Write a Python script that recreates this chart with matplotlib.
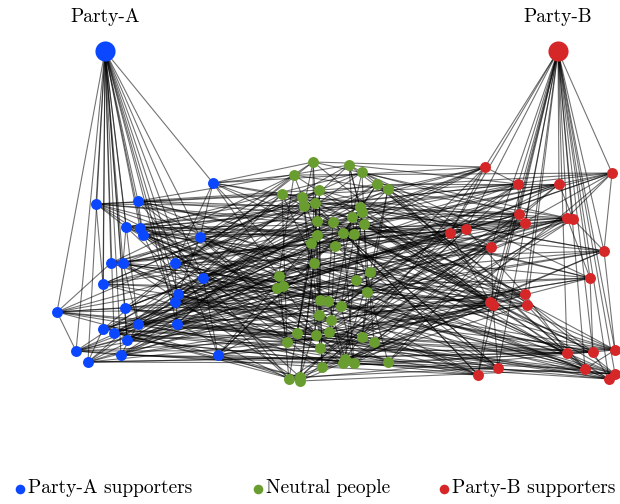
import matplotlib
matplotlib.use('Agg')
import matplotlib.pyplot as plt
from matplotlib.collections import LineCollection

plt.rcParams['font.family'] = 'cmr10'

# node positions (pixel-like coordinates, y down)
hub_a = (105, 51)
hub_b = (558, 51)

blue_x = [213, 96, 138, 126, 140, 143, 200, 111, 123, 175, 203, 103, 178, 175, 57,
          125, 103, 138, 177, 114, 127, 76, 121, 218, 88]
blue_y = [183, 204, 201, 227, 228, 235, 237, 263, 263, 263, 278, 284, 294, 302, 312,
          308, 329, 324, 324, 333, 340, 351, 355, 355, 362]

green_x = [313, 349, 294, 362, 377, 388, 282, 302, 319, 304, 315, 360, 362, 352, 317,
           333, 364, 317, 343, 354, 311, 335, 314, 279, 370, 356, 277, 283, 367, 320,
           328, 341, 319, 331, 297, 316, 329, 362, 374, 287, 320, 345, 354, 343, 322,
           388, 289, 300, 300]
green_y = [162, 165, 175, 172, 184, 189, 194, 197, 190, 206, 203, 207, 212, 217, 221,
           222, 224, 235, 233, 234, 243, 246, 263, 276, 272, 280, 288, 286, 292, 300,
           301, 306, 315, 320, 333, 335, 332, 337, 342, 342, 348, 359, 363, 363, 367,
           362, 379, 377, 381]

red_x = [485, 612, 518, 559, 519, 525, 567, 573, 450, 466, 491, 604, 590, 525, 527,
         490, 493, 567, 593, 615, 585, 615, 609, 498, 478]
red_y = [167, 173, 184, 184, 214, 223, 218, 219, 233, 229, 247, 251, 278, 294, 305,
         302, 305, 353, 352, 350, 369, 374, 379, 368, 375]

# edges
blue_green = {
    0: [0, 2, 7, 14, 23, 30], 1: [6, 9, 15, 24, 33, 40], 2: [1, 8, 13, 21, 29, 42],
    3: [4, 10, 18, 26, 35, 46], 4: [3, 11, 16, 22, 31, 44], 5: [5, 12, 19, 27, 36, 47],
    6: [0, 6, 17, 25, 34, 41], 7: [2, 9, 20, 28, 37, 45], 8: [7, 14, 23, 32, 39, 48],
    9: [1, 10, 18, 24, 30, 43], 10: [4, 11, 21, 29, 38, 46], 11: [3, 8, 15, 26, 33, 40],
    12: [5, 13, 19, 27, 35, 42], 13: [6, 16, 22, 31, 36, 44], 14: [9, 20, 28, 34, 41, 47],
    15: [0, 12, 17, 25, 37, 45], 16: [2, 14, 23, 30, 39, 48], 17: [7, 18, 24, 32, 38, 43],
    18: [1, 10, 21, 29, 35, 46], 19: [11, 15, 26, 33, 40, 47], 20: [3, 13, 20, 28, 36, 42],
    21: [8, 16, 22, 31, 37, 44], 22: [4, 19, 27, 34, 41, 45], 23: [5, 12, 17, 25, 38, 48],
    24: [6, 9, 24, 30, 39, 43],
}
red_green = {
    0: [0, 5, 12, 20, 33, 41], 1: [2, 8, 16, 27, 36, 45], 2: [1, 9, 18, 24, 31, 47],
    3: [4, 11, 22, 29, 38, 44], 4: [3, 7, 14, 26, 35, 48], 5: [6, 13, 19, 30, 40, 46],
    6: [0, 10, 17, 25, 34, 43], 7: [2, 12, 21, 28, 37, 42], 8: [5, 15, 23, 32, 39, 47],
    9: [1, 8, 20, 27, 36, 44], 10: [4, 14, 19, 31, 38, 45], 11: [6, 11, 24, 29, 41, 48],
    12: [3, 9, 16, 26, 33, 40], 13: [7, 13, 22, 30, 35, 46], 14: [10, 18, 25, 34, 39, 43],
    15: [0, 15, 21, 28, 37, 42], 16: [2, 12, 23, 32, 36, 47], 17: [5, 17, 20, 27, 40, 44],
    18: [1, 9, 19, 31, 38, 45], 19: [8, 14, 24, 29, 35, 46], 20: [4, 11, 26, 33, 41, 48],
    21: [3, 16, 22, 30, 39, 43], 22: [6, 13, 25, 34, 37, 42], 23: [7, 18, 21, 28, 36, 47],
    24: [10, 15, 23, 32, 40, 44],
}
blue_red = {
    0: [0, 9, 17], 1: [2, 11, 20], 2: [4, 13, 22], 3: [1, 8, 15, 24], 4: [3, 10, 19],
    5: [5, 12, 21], 6: [6, 14, 23], 7: [0, 7, 16], 8: [2, 9, 18], 9: [4, 11, 20],
    10: [1, 13, 22], 11: [3, 8, 15], 12: [5, 10, 24], 13: [6, 12, 19], 14: [7, 14, 21],
    15: [0, 16, 23], 16: [2, 9, 17], 17: [4, 11, 18], 18: [1, 13, 20], 19: [3, 8, 22],
    20: [5, 15, 24], 21: [6, 10, 19], 22: [7, 12, 21], 23: [14, 16, 23], 24: [0, 17, 18],
}
green_green = [(0, 9), (0, 14), (1, 11), (1, 19), (2, 17), (2, 26), (3, 13), (3, 28),
               (4, 21), (5, 24), (5, 37), (6, 22), (6, 39), (7, 29), (8, 32), (8, 44),
               (9, 35), (10, 40), (11, 31), (12, 41), (13, 36), (14, 46), (15, 30),
               (16, 38), (17, 47), (18, 42), (19, 45), (20, 34), (21, 33), (22, 48),
               (23, 27), (24, 43), (25, 31), (26, 39), (27, 35), (28, 37), (29, 44),
               (30, 41), (31, 42), (32, 47), (0, 22), (1, 16), (4, 18), (10, 29),
               (12, 25), (14, 34), (20, 40), (23, 46), (33, 43), (36, 45)]
blue_blue = [(0, 6), (0, 9), (1, 3), (1, 11), (2, 5), (2, 10), (3, 8), (4, 13),
             (6, 12), (7, 14), (8, 17), (9, 18), (11, 16), (12, 19), (14, 21),
             (14, 15), (15, 20), (16, 24), (17, 22), (19, 23), (10, 23), (21, 22)]
red_red = [(0, 2), (0, 8), (1, 6), (1, 11), (2, 4), (3, 7), (4, 9), (5, 10),
           (6, 12), (7, 11), (8, 15), (9, 13), (10, 16), (11, 19), (12, 18),
           (13, 17), (14, 20), (15, 24), (16, 23), (17, 21), (18, 22), (19, 20)]

blue = '#0a47ff'
green = '#6a9d2f'
red = '#d62728'

B = list(zip(blue_x, blue_y))
G = list(zip(green_x, green_y))
R = list(zip(red_x, red_y))

segs = []
for p in B:
    segs.append([hub_a, p])
for p in R:
    segs.append([hub_b, p])
for b, gs in blue_green.items():
    for g in gs:
        segs.append([B[b], G[g]])
for r, gs in red_green.items():
    for g in gs:
        segs.append([R[r], G[g]])
for b, rs in blue_red.items():
    for r in rs:
        segs.append([B[b], R[r]])
for i, j in green_green:
    segs.append([G[i], G[j]])
for i, j in blue_blue:
    segs.append([B[i], B[j]])
for i, j in red_red:
    segs.append([R[i], R[j]])

fig = plt.figure(figsize=(6.2, 5.04), dpi=100)
ax = fig.add_axes([0, 0, 1, 1])
ax.set_xlim(0, 620)
ax.set_ylim(504, 0)
ax.axis('off')

ax.add_collection(LineCollection(segs, colors='black', linewidths=0.8, alpha=0.55, zorder=1))

ax.scatter(blue_x, blue_y, s=62, color=blue, zorder=3, linewidths=0)
ax.scatter(green_x, green_y, s=62, color=green, zorder=3, linewidths=0)
ax.scatter(red_x, red_y, s=62, color=red, zorder=3, linewidths=0)
ax.scatter([hub_a[0]], [hub_a[1]], s=210, color=blue, zorder=3, linewidths=0)
ax.scatter([hub_b[0]], [hub_b[1]], s=210, color=red, zorder=3, linewidths=0)

ax.text(hub_a[0], 17, 'Party-A', ha='center', va='center', fontsize=14)
ax.text(hub_b[0], 17, 'Party-B', ha='center', va='center', fontsize=14)

# legend row at the bottom
legend_items = [(20, blue, 'Party-A supporters'),
                (258, green, 'Neutral people'),
                (444, red, 'Party-B supporters')]
for x, c, label in legend_items:
    ax.scatter([x], [489], s=48, color=c, linewidths=0, zorder=3)
    ax.text(x + 8, 488, label, ha='left', va='center', fontsize=14)

fig.savefig('out.png', dpi=100)
